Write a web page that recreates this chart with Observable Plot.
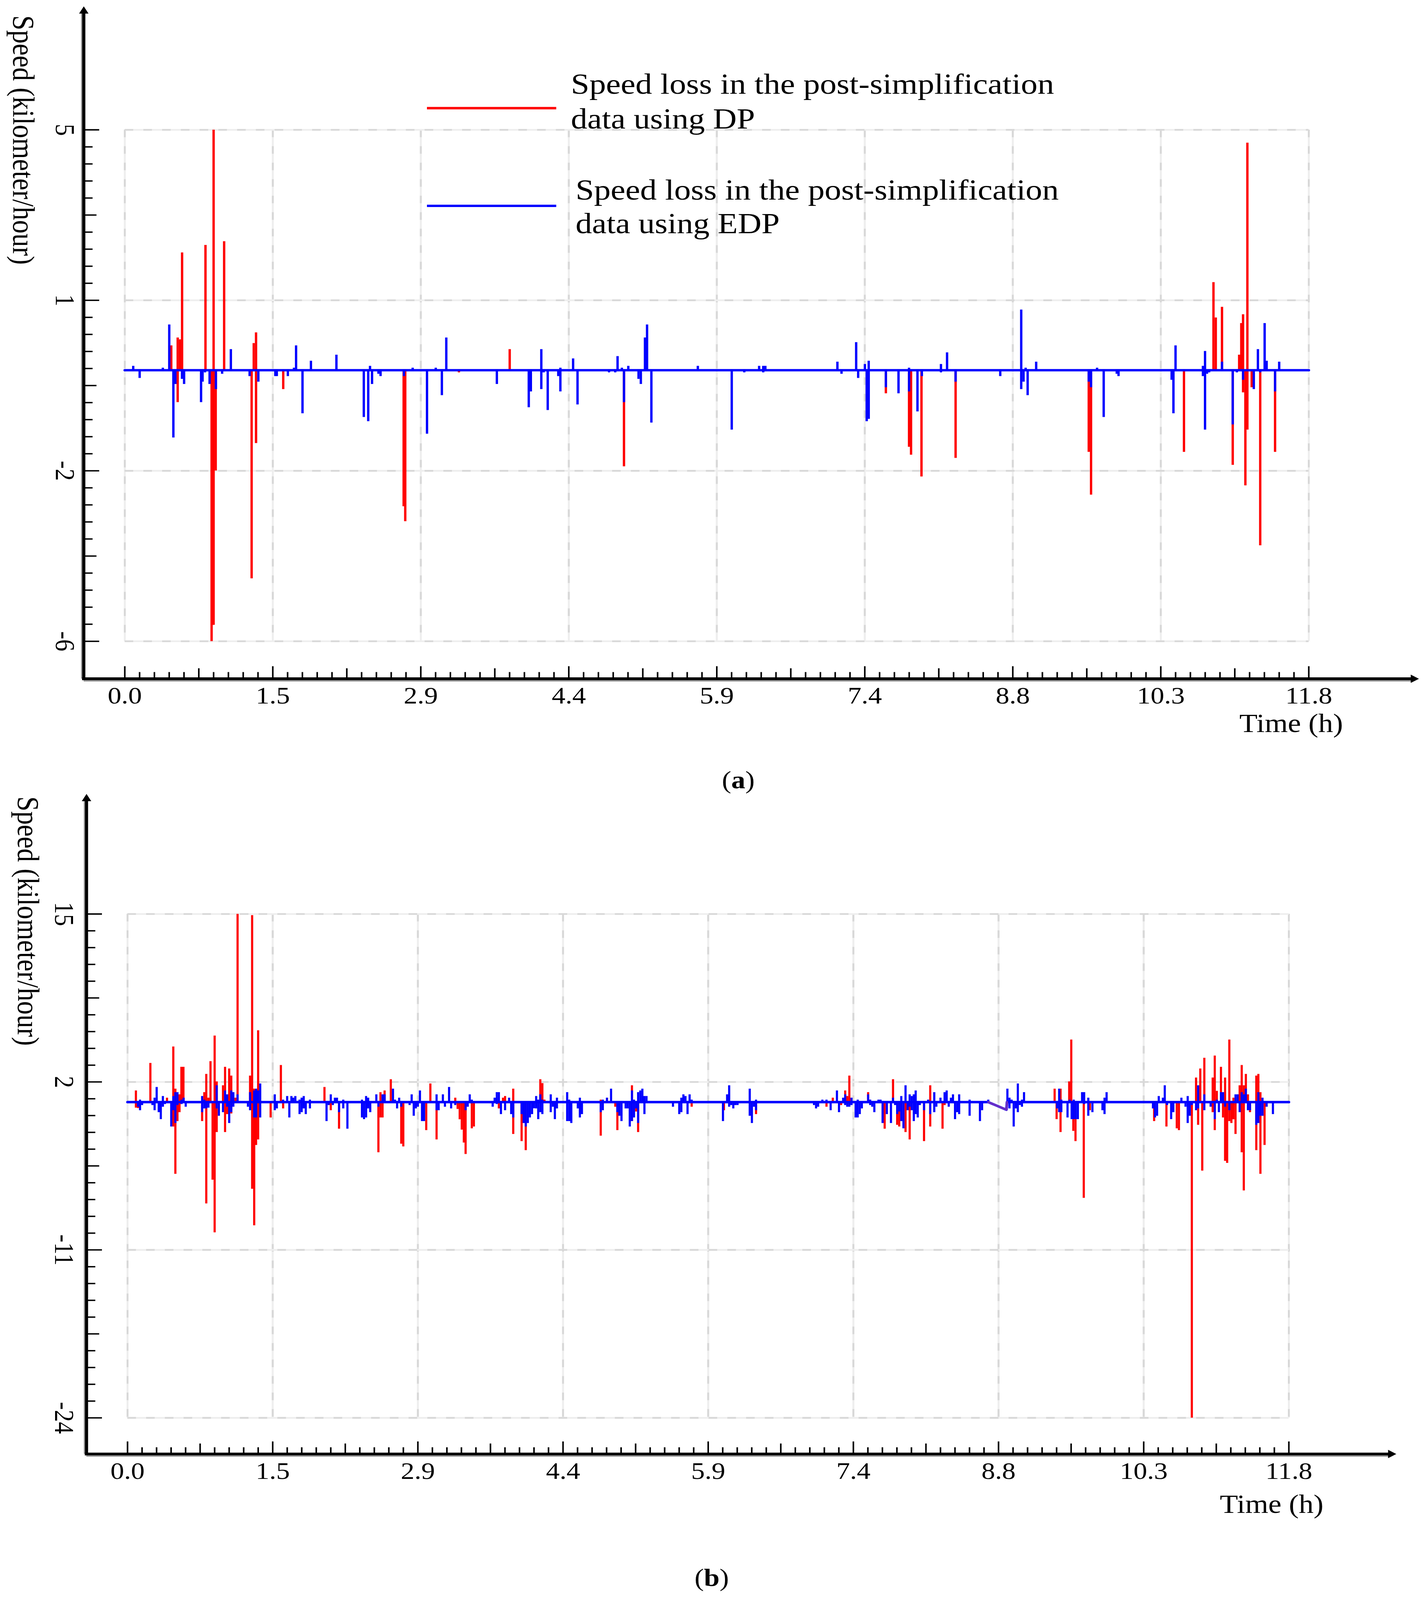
<!DOCTYPE html>
<html><head><meta charset="utf-8">
<script src="https://cdn.jsdelivr.net/npm/d3@7"></script>
<script src="https://cdn.jsdelivr.net/npm/@observablehq/plot@0.6"></script>
<style>
html,body{margin:0;padding:0;background:#fff;overflow:hidden;}
#wrap{position:relative;width:3648px;height:4652px;background:#fff;font-family:"Liberation Serif","Times New Roman",serif;overflow:hidden;transform-origin:0 0;}
#wrap svg{position:absolute;left:0;}
.cap{position:absolute;font-size:72px;transform:translate(-50%,-50%);line-height:1;white-space:nowrap;}
</style></head><body><div id="wrap"></div>
<script>
const xTicks = [0, 1.475, 2.95, 4.425, 5.9, 7.375, 8.85, 10.325, 11.8];
const xTickLabels = ["0.0", "1.5", "2.9", "4.4", "5.9", "7.4", "8.8", "10.3", "11.8"];
const aYTicks = [-6, -2.3333, 1.3333, 5];
const aYTickLabels = ["-6", "-2", "1", "5"];
const aBase = -0.17;
const aRed = [[0.463,0.36],[0.527,0.53],[0.527,-0.86],[0.55,0.49],[0.571,2.36],[0.804,2.52],[0.865,-6.0],[0.875,-5.65],[0.885,5.0],[0.885,-5.65],[0.906,-2.33],[0.99,2.60],[1.264,-4.65],[1.285,0.41],[1.308,0.64],[1.308,-1.74],[1.579,-0.58],[2.779,-3.1],[2.795,-3.42],[3.33,-0.22],[3.836,0.28],[4.975,-2.24],[7.585,-0.67],[7.816,-1.82],[7.836,-1.99],[7.94,-2.46],[8.28,-2.06],[9.607,-1.93],[9.63,-2.85],[10.556,-1.93],[10.85,1.72],[10.873,0.96],[10.935,1.19],[11.042,-2.21],[11.106,0.16],[11.127,0.84],[11.145,1.03],[11.145,-0.65],[11.168,-2.65],[11.188,4.72],[11.188,-1.45],[11.231,-0.54],[11.316,-3.94],[11.464,-1.93]];
const aBlue = [[0.084,-0.08],[0.148,-0.34],[0.379,-0.12],[0.443,0.81],[0.484,-1.62],[0.504,-0.47],[0.57,-0.36],[0.591,-0.47],[0.76,-0.86],[0.775,-0.42],[0.80,-0.22],[0.845,-0.47],[0.908,-0.58],[0.97,-0.25],[1.057,0.28],[1.244,-0.30],[1.331,-0.42],[1.50,-0.30],[1.515,-0.30],[1.625,-0.30],[1.686,-0.12],[1.707,0.36],[1.771,-1.10],[1.855,0.03],[2.109,0.16],[2.382,-1.18],[2.426,-1.27],[2.444,-0.08],[2.464,-0.47],[2.528,-0.25],[2.549,-0.30],[2.782,-0.30],[2.869,-0.12],[3.012,-1.54],[3.099,-0.12],[3.160,-0.71],[3.204,0.53],[3.708,-0.47],[4.026,-0.97],[4.047,-0.63],[4.151,0.28],[4.151,-0.58],[4.174,-0.22],[4.215,-1.03],[4.32,-0.30],[4.341,-0.63],[4.341,-0.12],[4.468,0.08],[4.512,-0.91],[4.826,-0.22],[4.888,-0.22],[4.911,0.13],[4.954,-0.12],[4.975,-0.86],[5.018,-0.08],[5.12,-0.36],[5.143,-0.47],[5.184,0.53],[5.205,0.81],[5.248,-1.30],[5.711,-0.08],[6.049,-1.45],[6.174,-0.22],[6.322,-0.08],[6.363,-0.22],[6.363,-0.08],[6.384,-0.08],[7.102,0.01],[7.143,-0.25],[7.289,0.43],[7.309,-0.34],[7.376,-0.04],[7.394,-1.27],[7.414,0.03],[7.414,-1.22],[7.585,-0.54],[7.711,-0.67],[7.816,-0.12],[7.816,-0.63],[7.90,-1.06],[7.944,-0.30],[8.134,-0.04],[8.134,-0.22],[8.195,0.21],[8.28,-0.42],[8.725,-0.30],[8.934,1.13],[8.934,-0.58],[8.957,-0.42],[8.978,-0.12],[8.998,-0.71],[9.083,0.01],[9.607,-0.42],[9.63,-0.54],[9.69,-0.12],[9.756,-1.18],[9.886,-0.25],[9.904,-0.30],[10.433,-0.38],[10.451,-1.10],[10.472,0.36],[10.745,-0.08],[10.745,-0.30],[10.766,0.24],[10.766,-1.45],[10.786,-0.25],[10.807,-0.22],[10.935,0.01],[11.042,-1.34],[11.083,-0.22],[11.145,-0.38],[11.252,-0.58],[11.293,0.28],[11.316,-0.22],[11.36,0.84],[11.38,0.03],[11.464,-0.63],[11.505,0.01]];
const aBlueLine = [[0, aBase], [11.8, aBase]];
const bYTicks = [-24, -11, 2, 15];
const bYTickLabels = ["-24", "-11", "2", "15"];
const bBase = 0.44;
const bRed = [[0.085,1.33],[0.085,0.0],[0.106,-0.03],[0.232,3.46],[0.401,0.77],[0.465,4.73],[0.465,-1.46],[0.486,-5.12],[0.486,1.47],[0.507,-1.04],[0.528,-0.35],[0.528,1.03],[0.547,3.16],[0.568,3.16],[0.758,-1.04],[0.78,1.2],[0.80,2.61],[0.80,-7.41],[0.822,0.77],[0.843,3.6],[0.864,-5.58],[0.885,5.58],[0.885,-9.65],[0.906,2.03],[0.906,-1.89],[0.97,1.73],[0.991,3.16],[0.991,-1.89],[1.012,-0.5],[1.033,3.03],[1.054,2.48],[1.054,-0.45],[1.097,0.77],[1.118,15.0],[1.245,2.48],[1.266,14.9],[1.266,-6.28],[1.287,-9.11],[1.287,1.47],[1.306,-2.89],[1.327,5.99],[1.327,-2.46],[1.454,-0.76],[1.558,3.30],[1.581,-0.06],[2.001,1.60],[2.065,-0.2],[2.149,-1.63],[2.549,-3.45],[2.57,1.2],[2.57,-0.76],[2.591,-0.76],[2.612,1.33],[2.675,2.2],[2.781,-2.79],[2.802,-3.0],[3.035,-1.74],[3.077,1.87],[3.14,-2.46],[3.33,0.77],[3.354,-0.1],[3.375,-0.9],[3.396,-1.7],[3.417,-2.7],[3.435,-3.59],[3.498,-1.6],[3.519,-1.46],[3.773,-0.06],[3.815,0.77],[3.836,0.9],[3.919,1.47],[3.919,-2.04],[4.004,-2.59],[4.046,-3.29],[4.194,2.2],[4.215,1.9],[4.236,0.62],[4.808,-2.17],[4.808,0.62],[4.871,0.77],[4.956,0.07],[4.977,-1.74],[5.125,1.73],[5.125,-1.04],[5.167,-0.3],[5.188,-1.89],[5.732,0.07],[6.06,-0.2],[6.386,-0.5],[7.102,0.07],[7.166,0.77],[7.25,0.2],[7.292,1.33],[7.313,0.9],[7.334,2.48],[7.525,1.2],[7.693,-1.63],[7.778,2.2],[7.82,-1.33],[7.841,-1.46],[7.905,-1.89],[7.947,-2.46],[8.093,-2.59],[8.156,1.73],[8.156,-1.46],[8.281,-1.63],[8.302,0.2],[9.42,1.47],[9.44,-0.89],[9.48,1.47],[9.48,-1.89],[9.568,2.03],[9.589,5.27],[9.61,-1.8],[9.632,-2.59],[9.716,-6.98],[9.778,-0.2],[10.431,-1.04],[10.556,-1.46],[10.661,-1.6],[10.683,-1.74],[10.814,-24],[10.857,2.33],[10.878,-1.33],[10.9,3.03],[10.92,-4.87],[10.941,3.86],[11.026,2.33],[11.026,-0.35],[11.047,4.03],[11.047,-1.74],[11.068,1.3],[11.11,3.16],[11.131,-0.76],[11.152,2.33],[11.152,-4.12],[11.173,-4.28],[11.195,5.27],[11.195,-1.04],[11.216,-1.19],[11.237,0.77],[11.237,-0.9],[11.258,-2.04],[11.3,1.73],[11.321,3.3],[11.321,-3.45],[11.342,1.73],[11.342,-6.41],[11.363,2.61],[11.384,1.03],[11.405,-0.35],[11.469,2.48],[11.469,-3.29],[11.49,2.61],[11.511,1.2],[11.511,-5.12],[11.553,-2.89]];
const bBlue = [[0.106,0.07],[0.127,0.62],[0.127,-0.2],[0.148,0.2],[0.253,0.2],[0.275,0.77],[0.275,-0.2],[0.296,1.6],[0.317,-0.35],[0.338,-0.89],[0.359,0.9],[0.359,0.07],[0.38,0.28],[0.444,-1.46],[0.465,-0.2],[0.465,0.9],[0.486,1.2],[0.486,-1.19],[0.507,1.2],[0.507,0.2],[0.549,0.62],[0.549,0.28],[0.57,0.77],[0.591,0.07],[0.758,0.9],[0.758,-0.35],[0.78,0.62],[0.78,-0.06],[0.80,-0.06],[0.822,0.0],[0.906,1.73],[0.906,-0.06],[0.928,-0.63],[0.97,-0.35],[0.991,1.33],[1.012,1.03],[1.012,0.07],[1.033,-1.19],[1.054,1.33],[1.054,-0.35],[1.075,1.2],[1.075,0.07],[1.118,1.03],[1.223,0.07],[1.245,1.2],[1.245,-0.2],[1.287,1.33],[1.287,-0.76],[1.306,1.47],[1.306,-0.76],[1.327,1.33],[1.348,1.87],[1.348,-0.76],[1.496,1.03],[1.496,-0.2],[1.517,-0.06],[1.581,0.62],[1.622,0.9],[1.644,-0.76],[1.665,0.9],[1.684,0.77],[1.705,0.9],[1.748,0.62],[1.748,-0.5],[1.769,0.77],[1.769,-0.35],[1.79,0.9],[1.79,-0.06],[1.811,-0.5],[1.853,0.62],[1.853,-0.06],[2.022,-1.04],[2.043,0.2],[2.065,1.03],[2.086,0.2],[2.107,0.77],[2.128,0.77],[2.149,-0.35],[2.192,0.62],[2.192,-0.06],[2.234,-1.63],[2.382,0.62],[2.382,-0.76],[2.403,-0.89],[2.424,0.9],[2.424,-0.76],[2.445,0.77],[2.445,-0.06],[2.466,-0.35],[2.528,1.03],[2.549,0.07],[2.591,1.03],[2.612,1.03],[2.697,1.47],[2.718,0.62],[2.739,-0.06],[2.76,0.77],[2.781,0.07],[2.866,0.2],[2.887,1.03],[2.908,-0.63],[2.929,-0.06],[2.95,0.07],[2.971,1.33],[2.992,-1.04],[3.013,-1.04],[3.14,1.03],[3.14,-0.2],[3.161,-0.2],[3.204,1.03],[3.225,0.07],[3.267,1.6],[3.288,-0.06],[3.33,0.2],[3.435,-0.2],[3.456,0.07],[3.477,1.03],[3.498,0.62],[3.71,0.07],[3.73,0.77],[3.752,1.2],[3.752,0.28],[3.773,1.2],[3.794,-0.5],[3.836,-0.2],[3.877,0.77],[3.898,-0.5],[3.919,-0.76],[4.004,-0.5],[4.025,-1.19],[4.046,-1.46],[4.067,-1.19],[4.088,-0.76],[4.11,-0.5],[4.13,0.5],[4.13,-0.05],[4.152,0.9],[4.152,-0.06],[4.173,-0.89],[4.173,0.62],[4.194,1.03],[4.194,-0.35],[4.215,-0.5],[4.215,0.62],[4.30,1.03],[4.30,-0.35],[4.321,0.07],[4.342,-0.89],[4.363,0.77],[4.363,-0.06],[4.467,1.2],[4.467,-1.04],[4.488,0.62],[4.488,-1.04],[4.509,-1.19],[4.575,-0.06],[4.596,0.77],[4.596,-0.76],[4.617,-0.5],[4.808,-0.35],[4.829,0.62],[4.829,-0.2],[4.871,0.77],[4.913,1.47],[4.977,-0.35],[4.998,-0.63],[5.019,-1.04],[5.061,-0.06],[5.082,-0.06],[5.103,-1.46],[5.125,1.33],[5.125,-1.04],[5.146,-0.76],[5.146,0.62],[5.167,-0.06],[5.188,1.2],[5.188,-1.19],[5.21,1.33],[5.231,1.47],[5.252,0.9],[5.252,-0.5],[5.273,0.9],[5.542,0.07],[5.606,-0.5],[5.627,0.77],[5.627,-0.35],[5.648,1.03],[5.669,0.9],[5.69,-0.5],[5.711,1.03],[5.732,0.62],[6.05,-1.04],[6.092,1.03],[6.113,1.73],[6.113,0.07],[6.134,0.2],[6.155,-0.06],[6.177,0.2],[6.198,0.2],[6.322,1.47],[6.322,-0.63],[6.344,-1.19],[6.365,0.07],[6.386,0.62],[6.386,-0.2],[6.975,0.2],[6.996,-0.06],[7.017,0.07],[7.06,0.62],[7.102,0.62],[7.144,-0.2],[7.208,1.33],[7.229,-0.35],[7.271,0.77],[7.292,1.03],[7.292,0.2],[7.313,0.07],[7.334,0.07],[7.356,0.77],[7.356,0.2],[7.398,-0.76],[7.419,-0.76],[7.419,0.62],[7.44,-0.5],[7.461,-0.06],[7.525,1.03],[7.546,0.62],[7.546,0.2],[7.567,0.07],[7.588,-0.35],[7.63,0.62],[7.651,0.62],[7.672,-1.19],[7.715,-0.5],[7.757,-1.19],[7.778,0.77],[7.799,0.2],[7.82,-0.5],[7.841,-0.3],[7.862,0.9],[7.862,-1.04],[7.884,-1.6],[7.905,1.73],[7.926,-0.2],[7.947,1.03],[7.947,0.07],[7.968,0.9],[7.968,-0.2],[7.989,1.03],[7.989,-1.04],[8.008,1.33],[8.008,-0.5],[8.029,-0.76],[8.05,0.2],[8.093,-0.2],[8.135,0.62],[8.156,-0.5],[8.197,1.2],[8.197,-0.35],[8.218,0.07],[8.26,0.77],[8.302,1.2],[8.323,1.33],[8.344,0.07],[8.366,0.77],[8.387,1.03],[8.408,-0.89],[8.429,-0.35],[8.45,1.03],[8.45,-0.5],[8.556,0.62],[8.556,-0.63],[8.661,-1.04],[8.683,-0.2],[8.746,0.62],[8.94,1.47],[8.961,0.77],[8.961,-0.06],[8.983,0.62],[9.004,-1.46],[9.025,-0.06],[9.046,1.87],[9.046,-0.35],[9.067,0.2],[9.088,0.62],[9.088,0.07],[9.109,1.2],[9.445,-0.06],[9.466,1.47],[9.466,-0.35],[9.488,0.62],[9.488,-0.35],[9.551,-0.76],[9.572,0.62],[9.593,-0.89],[9.614,0.62],[9.614,-0.89],[9.635,-0.89],[9.656,-0.89],[9.699,1.2],[9.72,1.2],[9.72,0.28],[9.762,0.77],[9.762,-0.63],[9.804,-0.35],[9.906,-0.2],[9.927,0.77],[9.927,-0.5],[9.948,1.2],[10.419,-0.06],[10.44,-0.76],[10.461,-0.63],[10.478,0.9],[10.52,0.77],[10.539,1.73],[10.562,0.2],[10.604,-0.89],[10.626,-0.35],[10.708,0.77],[10.75,0.07],[10.772,0.9],[10.772,-1.19],[10.793,-0.63],[10.814,0.2],[10.857,-0.2],[10.878,1.73],[10.878,-0.06],[10.941,1.03],[10.941,-0.2],[11.005,0.07],[11.047,-0.89],[11.068,0.62],[11.089,-0.35],[11.11,1.2],[11.131,1.2],[11.152,0.07],[11.195,-0.2],[11.258,1.03],[11.279,1.03],[11.3,-0.35],[11.321,1.2],[11.342,1.03],[11.363,1.47],[11.384,-0.2],[11.405,-0.2],[11.469,-1.33],[11.49,1.2],[11.49,-1.19],[11.511,-0.63],[11.532,0.77],[11.532,-0.63],[11.574,0.07],[11.638,-0.5]];
const bBlueLine = [[0, bBase], [8.746, bBase], [8.93, -0.15], [8.936, bBase], [11.8, bBase]];
const legendRed = ["Speed loss in the post-simplification", "data using DP"];
const legendBlue = ["Speed loss in the post-simplification", "data using EDP"];

function panel(o) {
  const yMin = o.yTicks[0], yMax = o.yTicks[o.yTicks.length - 1];
  const xAll = d3.range(81).map(i => i * 11.8 / 80);
  const xMaj = xAll.filter((d, i) => i % 10 === 0), xMed = xAll.filter((d, i) => i % 10 === 5), xMin = xAll.filter((d, i) => i % 5 !== 0);
  const yAll = d3.range(31).map(i => yMin + i * (yMax - yMin) / 30);
  const yMaj = yAll.filter((d, i) => i % 10 === 0), yMed = yAll.filter((d, i) => i % 10 === 5), yMinr = yAll.filter((d, i) => i % 5 !== 0);
  const grid = {stroke: "#eeeeee", strokeWidth: 5};
  const gridD = {stroke: "#d8d8d8", strokeWidth: 5, strokeDasharray: "22,26"};
  const ax = {stroke: "#000", strokeWidth: 8};
  const tk = {stroke: "#000", strokeWidth: 4};
  const marks = [
    Plot.ruleX(xTicks, grid), Plot.ruleX(xTicks, gridD),
    Plot.ruleY(o.yTicks, grid), Plot.ruleY(o.yTicks, gridD),
    Plot.ruleX(o.red, {x: d => d[0], y1: o.base, y2: d => d[1], stroke: "#ff0000", strokeWidth: o.sw}),
    Plot.ruleX(o.blue, {x: d => d[0], y1: o.base, y2: d => d[1], stroke: "#0000ff", strokeWidth: o.sw}),
    Plot.line(o.blueLine, {x: d => d[0], y: d => d[1], stroke: "#0000ff", strokeWidth: 7})
  ];
  if (o.blueLine.length > 2) {
    // the sloping stretch where both series run together is drawn in their blend (purple)
    marks.push(Plot.line(o.blueLine.slice(1, 4), {x: d => d[0], y: d => d[1], stroke: "#6a2fc4", strokeWidth: 6}));
  }
  marks.push(
    Plot.ruleX([0], {dx: o.axDx - 5, insetTop: o.axTop, insetBottom: -o.axDy, stroke: "#999", strokeWidth: 4}),
    Plot.ruleY([yMin], {dy: o.axDy + 6, insetLeft: o.axDx, insetRight: o.axRight, stroke: "#999", strokeWidth: 4}),
    Plot.ruleX([0], {dx: o.axDx, insetTop: o.axTop, insetBottom: -o.axDy, ...ax}),
    Plot.ruleY([yMin], {dy: o.axDy, insetLeft: o.axDx - 4, insetRight: o.axRight, ...ax}),
    Plot.dot([0], {x: 0, y: yMax, dx: o.axDx, dy: o.axTop, symbol: "triangle", r: 9, fill: "#000", stroke: "none"}),
    Plot.dot([0], {x: 11.8, y: yMin, dx: -o.axRight, dy: o.axDy, symbol: "triangle", rotate: 90, r: 9, fill: "#000", stroke: "none"}),
    Plot.ruleX(xMaj, {x: d => d, y1: yMin, y2: yMin, dy: o.axDy, insetBottom: 36, ...tk}),
    Plot.ruleX(xMed, {x: d => d, y1: yMin, y2: yMin, dy: o.axDy, insetBottom: 30, ...tk}),
    Plot.ruleX(xMin, {x: d => d, y1: yMin, y2: yMin, dy: o.axDy, insetBottom: 19, ...tk}),
    Plot.ruleY(yMaj, {y: d => d, x1: 0, x2: 0, dx: o.axDx, insetRight: -40, ...tk}),
    Plot.ruleY(yMed, {y: d => d, x1: 0, x2: 0, dx: o.axDx, insetRight: -33, ...tk}),
    Plot.ruleY(yMinr, {y: d => d, x1: 0, x2: 0, dx: o.axDx, insetRight: -23, ...tk}),
    Plot.text(xTicks, {x: d => d, text: (d, i) => xTickLabels[i], frameAnchor: "bottom", dy: o.xLabDy, lineAnchor: "middle", textAnchor: "middle", fontSize: 70, fill: "#000"}),
    Plot.text(o.yTicks, {y: d => d, text: (d, i) => o.yTickLabels[i], frameAnchor: "left", dx: o.yLabDx, rotate: 90, textAnchor: "middle", lineAnchor: "middle", fontSize: 70, fill: "#000"}),
    Plot.text(["Speed (kilometer/hour)"], {frameAnchor: "top-left", dx: o.titleDx, dy: o.titleDy, rotate: 90, textAnchor: "start", lineAnchor: "middle", fontSize: 78, fill: "#000"}),
    Plot.text(["Time (h)"], {frameAnchor: "bottom-right", dx: o.timeDx, dy: o.timeDy, textAnchor: "middle", lineAnchor: "middle", fontSize: 76, fill: "#000"})
  );
  if (o.legend) {
    marks.push(
      Plot.ruleY([yMax], {dy: -63, insetLeft: 774, insetRight: 1926, stroke: "#ff0000", strokeWidth: 7}),
      Plot.ruleY([yMax], {dy: 221, insetLeft: 774, insetRight: 1926, stroke: "#0000ff", strokeWidth: 7}),
      Plot.text([legendRed[0]], {frameAnchor: "top-left", dx: 1142, dy: -132, textAnchor: "start", lineAnchor: "middle", fontSize: 85, fill: "#000"}),
      Plot.text([legendRed[1]], {frameAnchor: "top-left", dx: 1142, dy: -31, textAnchor: "start", lineAnchor: "middle", fontSize: 84, fill: "#000"}),
      Plot.text([legendBlue[0]], {frameAnchor: "top-left", dx: 1154, dy: 176, textAnchor: "start", lineAnchor: "middle", fontSize: 85, fill: "#000"}),
      Plot.text([legendBlue[1]], {frameAnchor: "top-left", dx: 1154, dy: 274, textAnchor: "start", lineAnchor: "middle", fontSize: 84, fill: "#000"})
    );
  }
  const svg = Plot.plot({
    width: 3648, height: o.H,
    marginTop: o.mT, marginBottom: o.mB, marginLeft: o.mL, marginRight: o.mR,
    x: {domain: [0, 11.8], axis: null},
    y: {domain: [yMin, yMax], axis: null},
    style: {fontFamily: '"Liberation Serif", "Times New Roman", serif', background: "transparent", overflow: "visible", color: "#000"},
    marks
  });
  svg.style.top = o.top + "px";
  return svg;
}

const wrap = document.getElementById("wrap");
wrap.appendChild(panel({
  top: 0, H: 2200, mT: 377, mB: 336, mL: 319, mR: 298,
  yTicks: aYTicks, yTickLabels: aYTickLabels, base: aBase, red: aRed, blue: aBlue, blueLine: aBlueLine, sw: 6,
  axDx: -105, axDy: 109, axTop: -345, axRight: -268,
  xLabDy: 158, yLabDx: -154, titleDx: -261, titleDy: -333, timeDx: -45, timeDy: 240, legend: true
}));
wrap.appendChild(panel({
  top: 2300, H: 2200, mT: 357, mB: 378, mL: 326, mR: 349,
  yTicks: bYTicks, yTickLabels: bYTickLabels, base: bBase, red: bRed, blue: bBlue, blueLine: bBlueLine, sw: 5.5,
  axDx: -105, axDy: 105, axTop: -335, axRight: -261,
  xLabDy: 155, yLabDx: -163, titleDx: -256, titleDy: -342, timeDx: -44, timeDy: 252, legend: false
}));
const capA = document.createElement("div");
capA.className = "cap"; capA.style.left = "1890px"; capA.style.top = "2268px"; capA.innerHTML = "(<b>a</b>)";
wrap.appendChild(capA);
const capB = document.createElement("div");
capB.className = "cap"; capB.style.left = "1822px"; capB.style.top = "4587px"; capB.innerHTML = "(<b>b</b>)";
wrap.appendChild(capB);
// the photographed viewport can be shorter than the 4652px figure: fit it vertically
const vh = window.innerHeight || 4652;
const k = Math.min(1, vh / 4652);
wrap.style.transform = "scale(1," + k + ")";
document.body.style.height = Math.round(4652 * k) + "px";
</script>
</body></html>
